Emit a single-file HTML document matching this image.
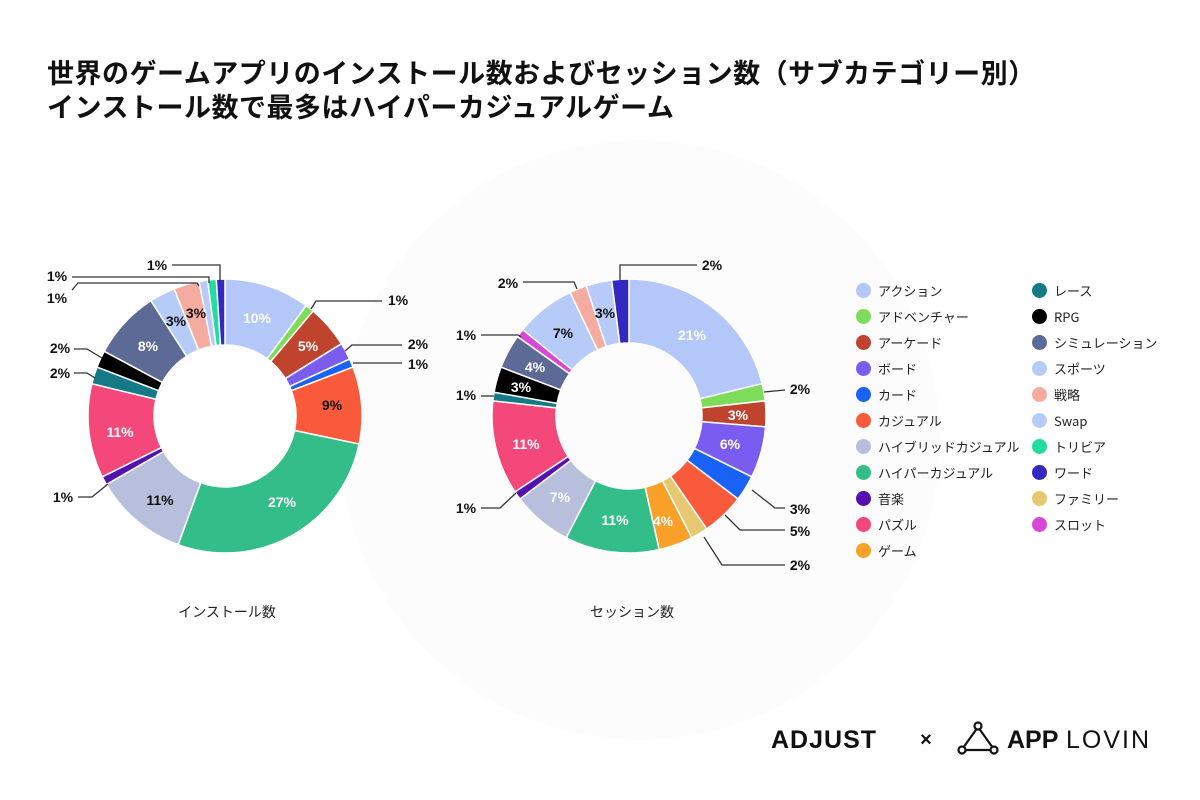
<!DOCTYPE html>
<html><head><meta charset="utf-8"><style>
body{margin:0;background:#fff;width:1200px;height:800px;overflow:hidden;font-family:"Liberation Sans","Noto Sans CJK JP",sans-serif}
h1{position:absolute;left:47px;top:57px;margin:0;font-size:27px;line-height:34px;font-weight:bold;color:#111;letter-spacing:0.5px}
.lg{position:absolute;font-size:13px;line-height:17px;color:#222;font-family:"Noto Sans CJK JP","Liberation Sans",sans-serif}
.lg span{position:absolute;left:-22px;top:1px;width:15px;height:15px;border-radius:50%}
</style></head><body>
<svg width="1200" height="800" style="position:absolute;left:0;top:0">
<circle cx="640" cy="440" r="300" fill="#fcfcfc"/>
<g id="c1"></g><g id="c2"></g>
<g font-family="'Liberation Sans Narrow','Liberation Sans',sans-serif" font-weight="bold" font-size="14" text-anchor="middle" id="lbl">
<text x="257" y="323" fill="#fff">10%</text><text x="308" y="351" fill="#fff">5%</text><text x="332" y="410" fill="#111">9%</text>
<text x="282" y="507" fill="#fff">27%</text><text x="160" y="505" fill="#111">11%</text><text x="120" y="437" fill="#fff">11%</text>
<text x="148" y="351" fill="#fff">8%</text><text x="176" y="326" fill="#111">3%</text><text x="196" y="318" fill="#111">3%</text>
<text x="157" y="270" fill="#111">1%</text><text x="57" y="281" fill="#111">1%</text><text x="57" y="303" fill="#111">1%</text>
<text x="398" y="305" fill="#111">1%</text><text x="418" y="349" fill="#111">2%</text><text x="418" y="369" fill="#111">1%</text>
<text x="60" y="353" fill="#111">2%</text><text x="60" y="378" fill="#111">2%</text><text x="63" y="502" fill="#111">1%</text>
<text x="692" y="340" fill="#fff">21%</text><text x="738" y="420" fill="#fff">3%</text><text x="730" y="449" fill="#fff">6%</text>
<text x="615" y="525" fill="#fff">11%</text><text x="663" y="526" fill="#fff">4%</text><text x="560" y="502" fill="#fff">7%</text>
<text x="526" y="449" fill="#fff">11%</text><text x="521" y="392" fill="#fff">3%</text><text x="535" y="372" fill="#fff">4%</text>
<text x="563" y="338" fill="#111">7%</text><text x="605" y="318" fill="#111">3%</text>
<text x="712" y="270" fill="#111">2%</text><text x="508" y="288" fill="#111">2%</text><text x="466" y="340" fill="#111">1%</text>
<text x="466" y="400" fill="#111">1%</text><text x="466" y="513" fill="#111">1%</text><text x="800" y="394" fill="#111">2%</text>
<text x="800" y="514" fill="#111">3%</text><text x="800" y="536" fill="#111">5%</text><text x="800" y="570" fill="#111">2%</text>
</g>
<g fill="none" stroke="#333" stroke-width="1.3">
<polyline points="172,265 220,265 220,281"/><polyline points="72,277 209,277 209,283"/><polyline points="72,290 78,283 197,283 199,286"/>
<polyline points="382,301 316,301 311,309"/><polyline points="402,345 352,345 345,351"/><polyline points="402,363 353,363"/>
<polyline points="74,349 87,349 102,358"/><polyline points="74,373 87,373 95,378"/><polyline points="78,497 92,497 108,484"/>
<polyline points="697,265 620,265 620,280"/><polyline points="523,282 574,282 577,289"/><polyline points="481,335 518,335 521,337"/>
<polyline points="481,396 494,396"/><polyline points="481,508 500,508 516,493"/><polyline points="785,390 764,392"/>
<polyline points="785,508 775,508 752,490"/><polyline points="785,530 740,530 725,515"/><polyline points="785,565 722,565 704,537"/>
</g>
<text x="227" y="617" font-size="14" text-anchor="middle" fill="#222" font-family="'Liberation Sans','Noto Sans CJK JP',sans-serif">インストール数</text>
<text x="632" y="617" font-size="14" text-anchor="middle" fill="#222" font-family="'Liberation Sans','Noto Sans CJK JP',sans-serif">セッション数</text>
<text x="771" y="748" font-size="25" font-weight="bold" fill="#111" font-family="'Liberation Sans',sans-serif" letter-spacing="1">ADJUST</text>
<text x="926" y="746" font-size="20" font-weight="bold" fill="#111" text-anchor="middle">×</text>
<g fill="none" stroke="#111" stroke-width="2.2"><path d="M978,727 L963,748 M978,727 L993,748 M966,750 L990,750"/>
<circle cx="978" cy="726" r="3.5" fill="#fff"/><circle cx="962" cy="750" r="3.5" fill="#fff"/><circle cx="994" cy="750" r="3.5" fill="#fff"/></g>
<text x="1007" y="748" font-size="25" font-weight="bold" fill="#111" font-family="'Liberation Sans',sans-serif">APP</text>
<text x="1066" y="748" font-size="25" fill="#111" font-family="'Liberation Sans',sans-serif" letter-spacing="2">LOVIN</text>
</svg>
<h1>世界のゲームアプリのインストール数およびセッション数（サブカテゴリー別）<br>インストール数で最多はハイパーカジュアルゲーム</h1>
<div id="legend"></div>
<script>
var C={a:"#b3c8f8",adv:"#7ddc5a",arc:"#c0432e",bd:"#7a5cf0",cd:"#1a62f5",cas:"#fa5a3c",hyb:"#b8bfdc",hyp:"#33bd88",mu:"#5510b0",pz:"#f5487a",gm:"#f8a028",rc:"#137a86",rpg:"#000",sim:"#5e6a96",sp:"#b6cbf8",st:"#f5aca0",sw:"#b8cbf8",tr:"#22dca0",wd:"#3428c0",fm:"#e6c870",sl:"#d848d8"};
function donut(id,cx,cy,R,r,d){var g=document.getElementById(id),tot=0;d.forEach(function(e){tot+=e[1]});var a=-Math.PI/2,s="";
d.forEach(function(e){var b=a+e[1]/tot*2*Math.PI,l=(b-a)>Math.PI?1:0;
function p(rr,t){return (cx+rr*Math.cos(t)).toFixed(2)+","+(cy+rr*Math.sin(t)).toFixed(2)}
s+='<path d="M'+p(R,a)+' A'+R+','+R+' 0 '+l+' 1 '+p(R,b)+' L'+p(r,b)+' A'+r+','+r+' 0 '+l+' 0 '+p(r,a)+'Z" fill="'+C[e[0]]+'" stroke="#fff" stroke-width="1.5"/>';a=b});g.innerHTML=s}
donut("c1",225,416,137,71,[["a",10],["adv",1],["arc",5],["bd",2],["cd",1],["cas",9],["hyp",27],["hyb",11],["mu",1],["pz",11],["rc",2],["rpg",2],["sim",8],["sp",3],["st",3],["sw",1],["tr",1],["wd",1]]);
donut("c2",629,416,137,73,[["a",21],["adv",2],["arc",3],["bd",6],["cd",3],["cas",5],["fm",2],["gm",4],["hyp",11],["hyb",7],["mu",1],["pz",11],["rc",1],["rpg",3],["sim",4],["sl",1],["sp",7],["st",2],["sw",3],["wd",2]]);
var L1=[["a","アクション"],["adv","アドベンチャー"],["arc","アーケード"],["bd","ボード"],["cd","カード"],["cas","カジュアル"],["hyb","ハイブリッドカジュアル"],["hyp","ハイパーカジュアル"],["mu","音楽"],["pz","パズル"],["gm","ゲーム"]];
var L2=[["rc","レース"],["rpg","RPG"],["sim","シミュレーション"],["sp","スポーツ"],["st","戦略"],["sw","Swap"],["tr","トリビア"],["wd","ワード"],["fm","ファミリー"],["sl","スロット"]];
var h="";function add(L,x){L.forEach(function(e,i){h+='<div class="lg" style="left:'+x+'px;top:'+(282+i*26)+'px"><span style="background:'+C[e[0]]+'"></span>'+e[1]+'</div>'})}
add(L1,878);add(L2,1054);document.getElementById("legend").innerHTML=h;
</script>
</body></html>
